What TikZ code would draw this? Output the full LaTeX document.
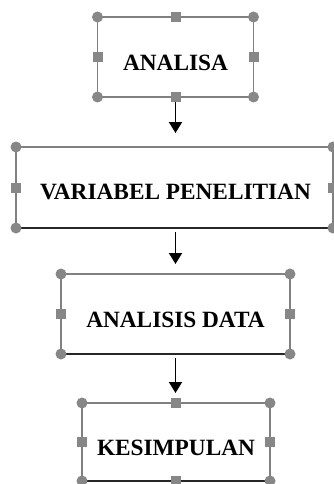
\documentclass[tikz,border=0pt]{standalone}
\usepackage{fontspec}
\setmainfont{Liberation Serif}
\usetikzlibrary{arrows.meta}
\definecolor{framegray}{HTML}{808080}
\definecolor{handlegray}{HTML}{878787}
\begin{document}
\begin{tikzpicture}[x=1pt,y=-1pt,
  boxframe/.style={draw=framegray, line width=1.8pt, rectangle, inner sep=0pt, outer sep=0pt},
  lbl/.style={font=\fontsize{23.3}{27}\selectfont\bfseries, inner sep=0pt},
  flow/.style={draw=black, line width=1.9pt, -{Triangle[width=13pt,length=11pt]}},
  bottomline/.style={draw=black!85, line width=1.8pt}]
\useasboundingbox (0,0) rectangle (334,484);
\clip (0,0) rectangle (334,484);
% boxes
\node[boxframe, minimum width=156pt, minimum height=80pt] (b1) at (175.5,57) {};
\node[boxframe, minimum width=317pt, minimum height=81pt] (b2) at (174.5,187.5) {};
\node[boxframe, minimum width=229pt, minimum height=80pt] (b3) at (175.5,314) {};
\node[boxframe, minimum width=188pt, minimum height=78pt] (b4) at (176,442) {};
% darker bottom edges
\draw[bottomline] (b2.south west) -- (b2.south east);
\draw[bottomline] (b3.south west) -- (b3.south east);
\draw[bottomline] (b4.south west) -- (b4.south east);
% labels
\node[lbl] (t1) at ([yshift=-5.5pt]b1.center) {ANALISA};
\node[lbl] (t2) at ([yshift=-4.5pt,xshift=1pt]b2.center) {VARIABEL PENELITIAN};
\node[lbl] (t3) at ([yshift=-6pt]b3.center) {ANALISIS DATA};
\node[lbl] (t4) at ([yshift=-6pt]b4.center) {KESIMPULAN};
% connectors
\draw[flow, shorten >=14pt] (b1.south) -- (b1.south |- b2.north);
\draw[flow, shorten <=4pt, shorten >=10pt] (b2.south -| b1.south) -- (b1.south |- b3.north);
\draw[flow, shorten <=4pt, shorten >=10pt] (b3.south -| b1.south) -- (b1.south |- b4.north);
% handles
\foreach \b in {b1,b2,b3,b4}{
  \foreach \a in {north west,north east,south west,south east}{
    \fill[handlegray] (\b.\a) circle (5.5pt);
  }
  \foreach \a in {west,east}{
    \fill[handlegray] ([xshift=-5pt,yshift=-5pt]\b.\a) rectangle ++(10,-10);
  }
}
\foreach \b in {b1,b4}{
  \foreach \a in {north,south}{
    \fill[handlegray] ([xshift=-5pt,yshift=-5pt]\b.\a) rectangle ++(10,-10);
  }
}
\end{tikzpicture}
\end{document}
